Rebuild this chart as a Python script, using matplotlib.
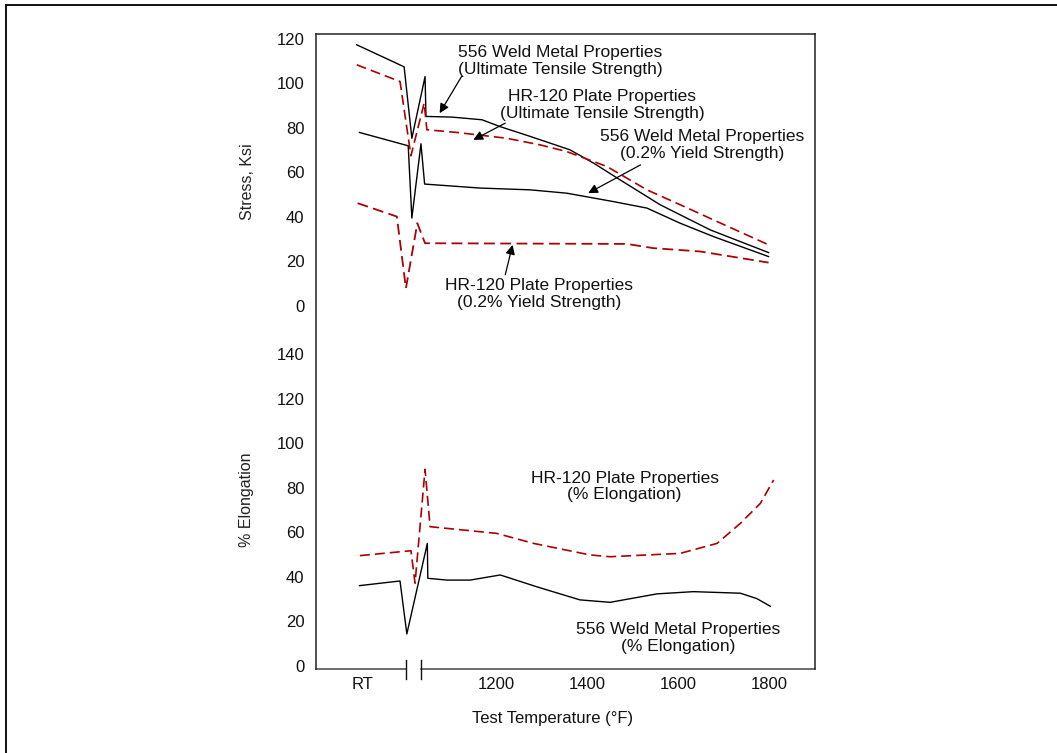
import matplotlib.pyplot as plt
from matplotlib.lines import Line2D
import matplotlib.transforms as mtransforms

plt.rcParams['font.family'] = ['Liberation Sans', 'DejaVu Sans']

# offset that stacks the stress panel above the elongation panel
TOP = 162

# ---- stress curves (temperature, ksi) ----
weld_uts_t = [894, 998, 1015, 1044, 1046, 1103, 1169, 1209, 1275, 1362, 1414, 1472, 1560, 1670, 1798]
weld_uts_v = [117.2, 107.3, 75.2, 102.9, 85.0, 84.7, 83.5, 80.4, 76.0, 70.0, 64.0, 56.5, 45.3, 34.0, 23.8]

plate_uts_t = [894, 989, 1013, 1042, 1048, 1114, 1223, 1297, 1355, 1443, 1531, 1604, 1677, 1798]
plate_uts_v = [108.2, 100.7, 67.3, 91.0, 79.0, 77.8, 75.2, 72.2, 69.2, 62.5, 52.0, 45.3, 38.5, 27.3]

weld_ys_t = [900, 1007, 1015, 1035, 1043, 1165, 1275, 1355, 1458, 1531, 1604, 1677, 1798]
weld_ys_v = [77.8, 71.8, 39.3, 72.7, 54.6, 52.8, 52.0, 50.5, 46.7, 43.8, 37.0, 31.0, 22.0]

plate_ys_t = [896, 982, 1002, 1027, 1044, 1487, 1545, 1648, 1798]
plate_ys_v = [46.0, 40.0, 7.8, 37.0, 28.0, 27.7, 25.8, 24.3, 19.3]

# ---- elongation curves (temperature, %) ----
plate_el_t = [901, 1013, 1022, 1044, 1055, 1201, 1282, 1406, 1450, 1604, 1685, 1736, 1780, 1809]
plate_el_v = [49.6, 51.8, 37.2, 88.4, 62.6, 59.6, 55.1, 49.9, 49.1, 50.6, 55.1, 64.1, 73.1, 83.6]

weld_el_t = [900, 989, 1004, 1049, 1050, 1092, 1143, 1209, 1289, 1384, 1450, 1553, 1633, 1736, 1772, 1802]
weld_el_v = [36.1, 38.2, 14.4, 55.1, 39.4, 38.6, 38.6, 40.9, 35.6, 29.7, 28.6, 32.4, 33.4, 32.7, 30.3, 26.8]

x_ticks = [906, 1200, 1400, 1600, 1800]
x_labels = ['RT', '1200', '1400', '1600', '1800']
stress_ticks = [0, 20, 40, 60, 80, 100, 120]
elong_ticks = [0, 20, 40, 60, 80, 100, 120, 140]
break_t = [1002, 1036]

red = '#ad0000'

fig = plt.figure(figsize=(10.57, 7.53), dpi=100)
ax = fig.add_axes([0.2987, 0.1116, 0.4724, 0.8428])

ax.plot(weld_uts_t, [v + TOP for v in weld_uts_v], color='black', lw=1.0)
ax.plot(plate_uts_t, [v + TOP for v in plate_uts_v], color=red, lw=1.2, dashes=(6, 3))
ax.plot(weld_ys_t, [v + TOP for v in weld_ys_v], color='black', lw=1.0)
ax.plot(plate_ys_t, [v + TOP for v in plate_ys_v], color=red, lw=1.3, dashes=(6, 3))
ax.plot(plate_el_t, plate_el_v, color=red, lw=1.2, dashes=(6, 3))
ax.plot(weld_el_t, weld_el_v, color='black', lw=1.0)

ax.set_xlim(804, 1900)
ax.set_ylim(-1.35, 283.9)

ax.set_xticks(x_ticks)
ax.set_xticklabels(x_labels)
ax.set_yticks(elong_ticks + [v + TOP for v in stress_ticks])
ax.set_yticklabels([str(v) for v in elong_ticks] + [str(v) for v in stress_ticks])
ax.tick_params(axis='both', length=0, labelsize=12, colors='#111111')
ax.tick_params(axis='y', pad=8)
ax.tick_params(axis='x', pad=6)

for s in ['left', 'top', 'right']:
    ax.spines[s].set_color('#222222')
    ax.spines[s].set_linewidth(1.1)
ax.spines['bottom'].set_visible(False)

# broken bottom axis
trans = mtransforms.blended_transform_factory(ax.transData, ax.transAxes)
ax.plot([804, break_t[0]], [0, 0], transform=trans, color='#444444', lw=1.1, clip_on=False)
ax.plot([break_t[1], 1900], [0, 0], transform=trans, color='#444444', lw=1.1, clip_on=False)
for bt in break_t:
    ax.plot([bt, bt], [-0.0165, 0.0145], transform=trans, color='#111111', lw=1.0, clip_on=False)


def top_y(py):
    # pixel row in the reference -> stacked stress coordinate
    return TOP + (305.7 - py) / 2.225


def low_y(py):
    return (666 - py) / 2.225


fs = 12.5
tc = '#111111'
ls = 1.12
arrow = dict(arrowstyle='-|>', color='black', lw=0.9, mutation_scale=14, shrinkA=0, shrinkB=0)

ax.text(1340, top_y(61), '556 Weld Metal Properties\n(Ultimate Tensile Strength)',
        ha='center', va='center', fontsize=fs, color=tc, linespacing=ls)
ax.annotate('', xy=(1076, top_y(113.3)), xytext=(1124, top_y(76.7)), arrowprops=arrow)

ax.text(1433, top_y(105), 'HR-120 Plate Properties\n(Ultimate Tensile Strength)',
        ha='center', va='center', fontsize=fs, color=tc, linespacing=ls)
ax.annotate('', xy=(1150, top_y(140)), xytext=(1220, top_y(123.3)), arrowprops=arrow)

ax.text(1652, top_y(145), '556 Weld Metal Properties\n(0.2% Yield Strength)',
        ha='center', va='center', fontsize=fs, color=tc, linespacing=ls)
ax.annotate('', xy=(1402, top_y(193.3)), xytext=(1517, top_y(165)), arrowprops=arrow)

ax.text(1294, top_y(294), 'HR-120 Plate Properties\n(0.2% Yield Strength)',
        ha='center', va='center', fontsize=fs, color=tc, linespacing=ls)
ax.annotate('', xy=(1236, top_y(245)), xytext=(1220, top_y(275)), arrowprops=arrow)

ax.text(1482, low_y(486.5), 'HR-120 Plate Properties\n(% Elongation)',
        ha='center', va='center', fontsize=fs, color=tc, linespacing=ls)
ax.text(1599, low_y(638), '556 Weld Metal Properties\n(% Elongation)',
        ha='center', va='center', fontsize=fs, color=tc, linespacing=ls)

fig.text(247 / 1057, 1 - 182 / 753, 'Stress, Ksi', rotation=90, ha='center', va='center',
         fontsize=11.5, color='#222222')
fig.text(247 / 1057, 1 - 500 / 753, '% Elongation', rotation=90, ha='center', va='center',
         fontsize=11.5, color='#222222')
fig.text(553 / 1057, 1 - 718 / 753, 'Test Temperature (°F)', ha='center', va='center',
         fontsize=12, color='#111111')

# frame lines at top and left of the picture
fig.add_artist(Line2D([6 / 1057, 1], [1 - 5 / 753, 1 - 5 / 753], transform=fig.transFigure,
                      color='#111111', lw=1.4))
fig.add_artist(Line2D([6 / 1057, 6 / 1057], [0, 1 - 5 / 753], transform=fig.transFigure,
                      color='#111111', lw=1.4))

fig.savefig('out.png', dpi=100)
